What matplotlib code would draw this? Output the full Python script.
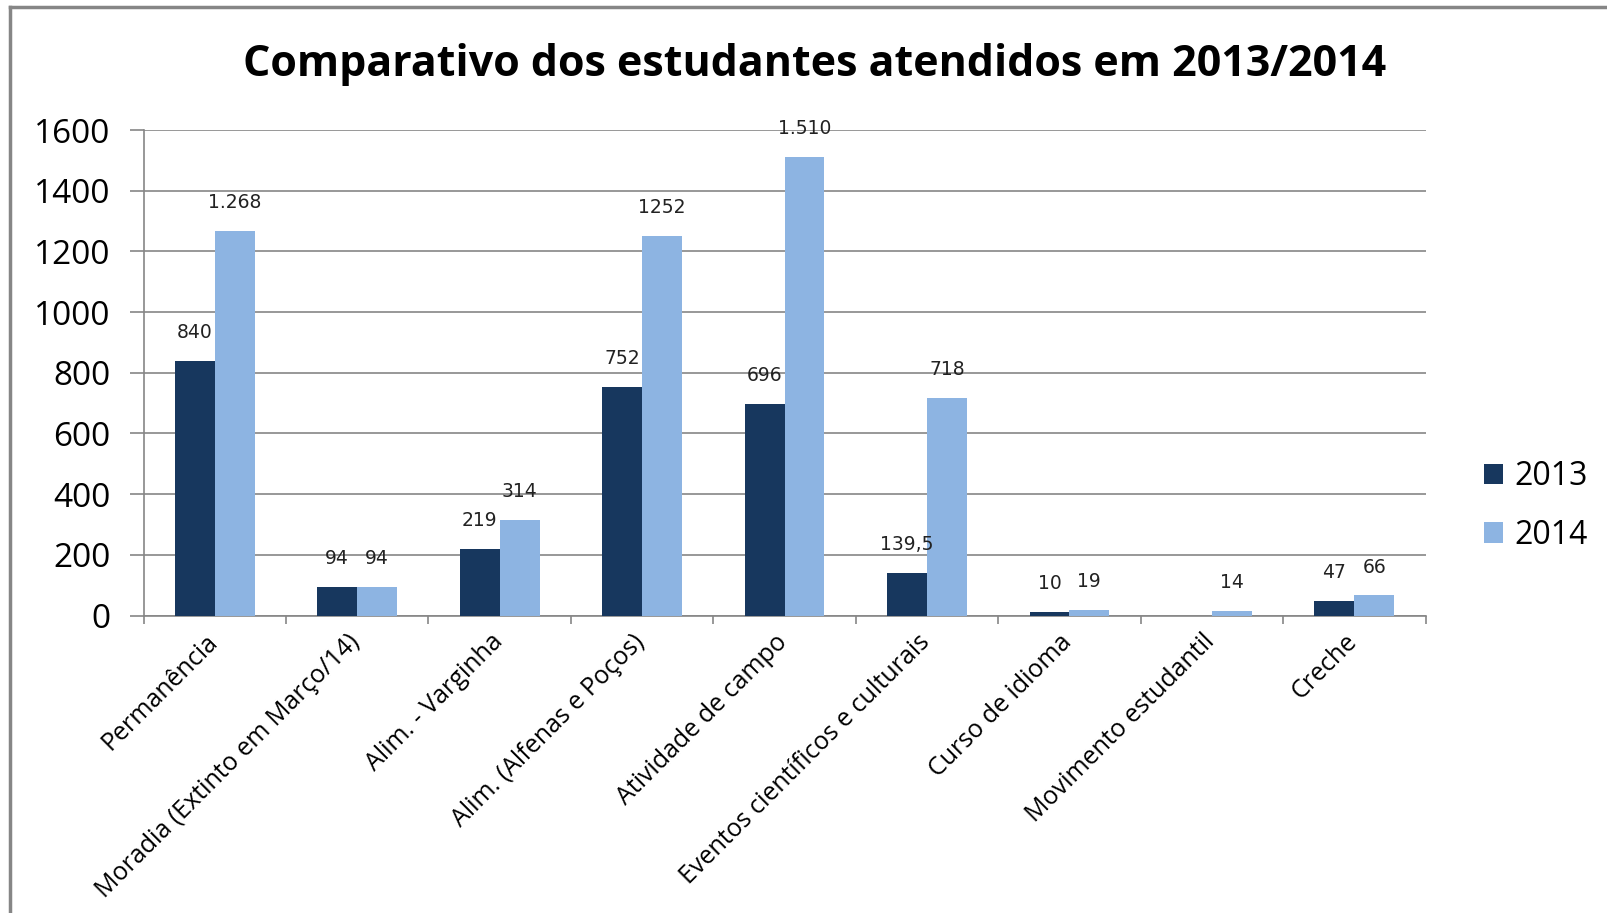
import matplotlib.pyplot as plt
import numpy as np
from matplotlib.lines import Line2D
from matplotlib.transforms import ScaledTranslation

categories = [
    "Permanência",
    "Moradia (Extinto em Março/14)",
    "Alim. - Varginha",
    "Alim. (Alfenas e Poços)",
    "Atividade de campo",
    "Eventos científicos e culturais",
    "Curso de idioma",
    "Movimento estudantil",
    "Creche",
]
values_2013 = [840, 94, 219, 752, 696, 139.5, 10, 0, 47]
values_2014 = [1268, 94, 314, 1252, 1510, 718, 19, 14, 66]
labels_2013 = ["840", "94", "219", "752", "696", "139,5", "10", "", "47"]
labels_2014 = ["1.268", "94", "314", "1252", "1.510", "718", "19", "14", "66"]
y_ticks = [0, 200, 400, 600, 800, 1000, 1200, 1400, 1600]

c2013 = "#17375E"
c2014 = "#8DB4E2"
grid_c = "#868686"
main_font = ["Open Sans", "DejaVu Sans"]

W, H = 1608, 913
fig = plt.figure(figsize=(W / 100, H / 100), dpi=100)
ax = fig.add_axes([143.6 / W, 1 - 615.5 / H, (1425.5 - 143.6) / W, (615.5 - 130) / H])

# outer chart frame (only left and top edge visible)
fig.add_artist(Line2D([10 / W, 10 / W], [0, 1 - 7 / H], color=grid_c, lw=2.5, transform=fig.transFigure))
fig.add_artist(Line2D([10 / W, 1], [1 - 7 / H, 1 - 7 / H], color=grid_c, lw=2.5, transform=fig.transFigure))

x = np.arange(len(categories))
w = 0.28
b1 = ax.bar(x - w / 2, values_2013, w, color=c2013, label="2013", zorder=3)
b2 = ax.bar(x + w / 2, values_2014, w, color=c2014, label="2014", zorder=3)

for bars, labs in ((b1, labels_2013), (b2, labels_2014)):
    for rect, lab in zip(bars, labs):
        if not lab:
            continue
        ax.annotate(lab, (rect.get_x() + rect.get_width() / 2, rect.get_height()),
                    xytext=(0, 20.5), textcoords="offset points",
                    ha="center", va="center", fontsize=13.5, family="DejaVu Sans",
                    color="#222222")

ax.set_xlim(-0.5, len(categories) - 0.5)
ax.set_ylim(0, 1600)
ax.set_yticks(y_ticks)
ax.yaxis.grid(True, color=grid_c, lw=1.2, zorder=0)
ax.set_yticklabels([str(t) for t in y_ticks], family=main_font, fontsize=24)
ax.tick_params(axis="y", length=10, width=1.2, color=grid_c, pad=14)

# category ticks sit on the boundaries
ax.set_xticks(np.arange(-0.5, len(categories)), minor=False)
ax.set_xticklabels([])
ax.tick_params(axis="x", length=6, width=1.2, color=grid_c)
ax.set_xticks(x, minor=True)
ax.set_xticklabels(categories, minor=True, rotation=45, ha="right",
                   rotation_mode="anchor", family=main_font, fontsize=18)
ax.tick_params(axis="x", which="minor", length=0, pad=10)
shift = ScaledTranslation(-7 / 72, 0, fig.dpi_scale_trans)
for lbl in ax.get_xticklabels(minor=True):
    lbl.set_transform(lbl.get_transform() + shift)

for side in ("top", "right"):
    ax.spines[side].set_visible(False)
for side in ("left", "bottom"):
    ax.spines[side].set_color(grid_c)
    ax.spines[side].set_linewidth(1.2)

fig.text(815 / W, 1 - 64 / H, "Comparativo dos estudantes atendidos em 2013/2014",
         ha="center", va="center", fontsize=31, fontweight="bold", family=main_font)

fig.legend(handles=[b1, b2], loc="center left", bbox_to_anchor=(1484 / W, 1 - 506 / H),
           frameon=False, prop={"family": main_font, "size": 23}, borderpad=0,
           borderaxespad=0, handlelength=0.6, handleheight=0.6, handletextpad=0.35,
           labelspacing=0.8)

fig.savefig("out.png", dpi=100)
